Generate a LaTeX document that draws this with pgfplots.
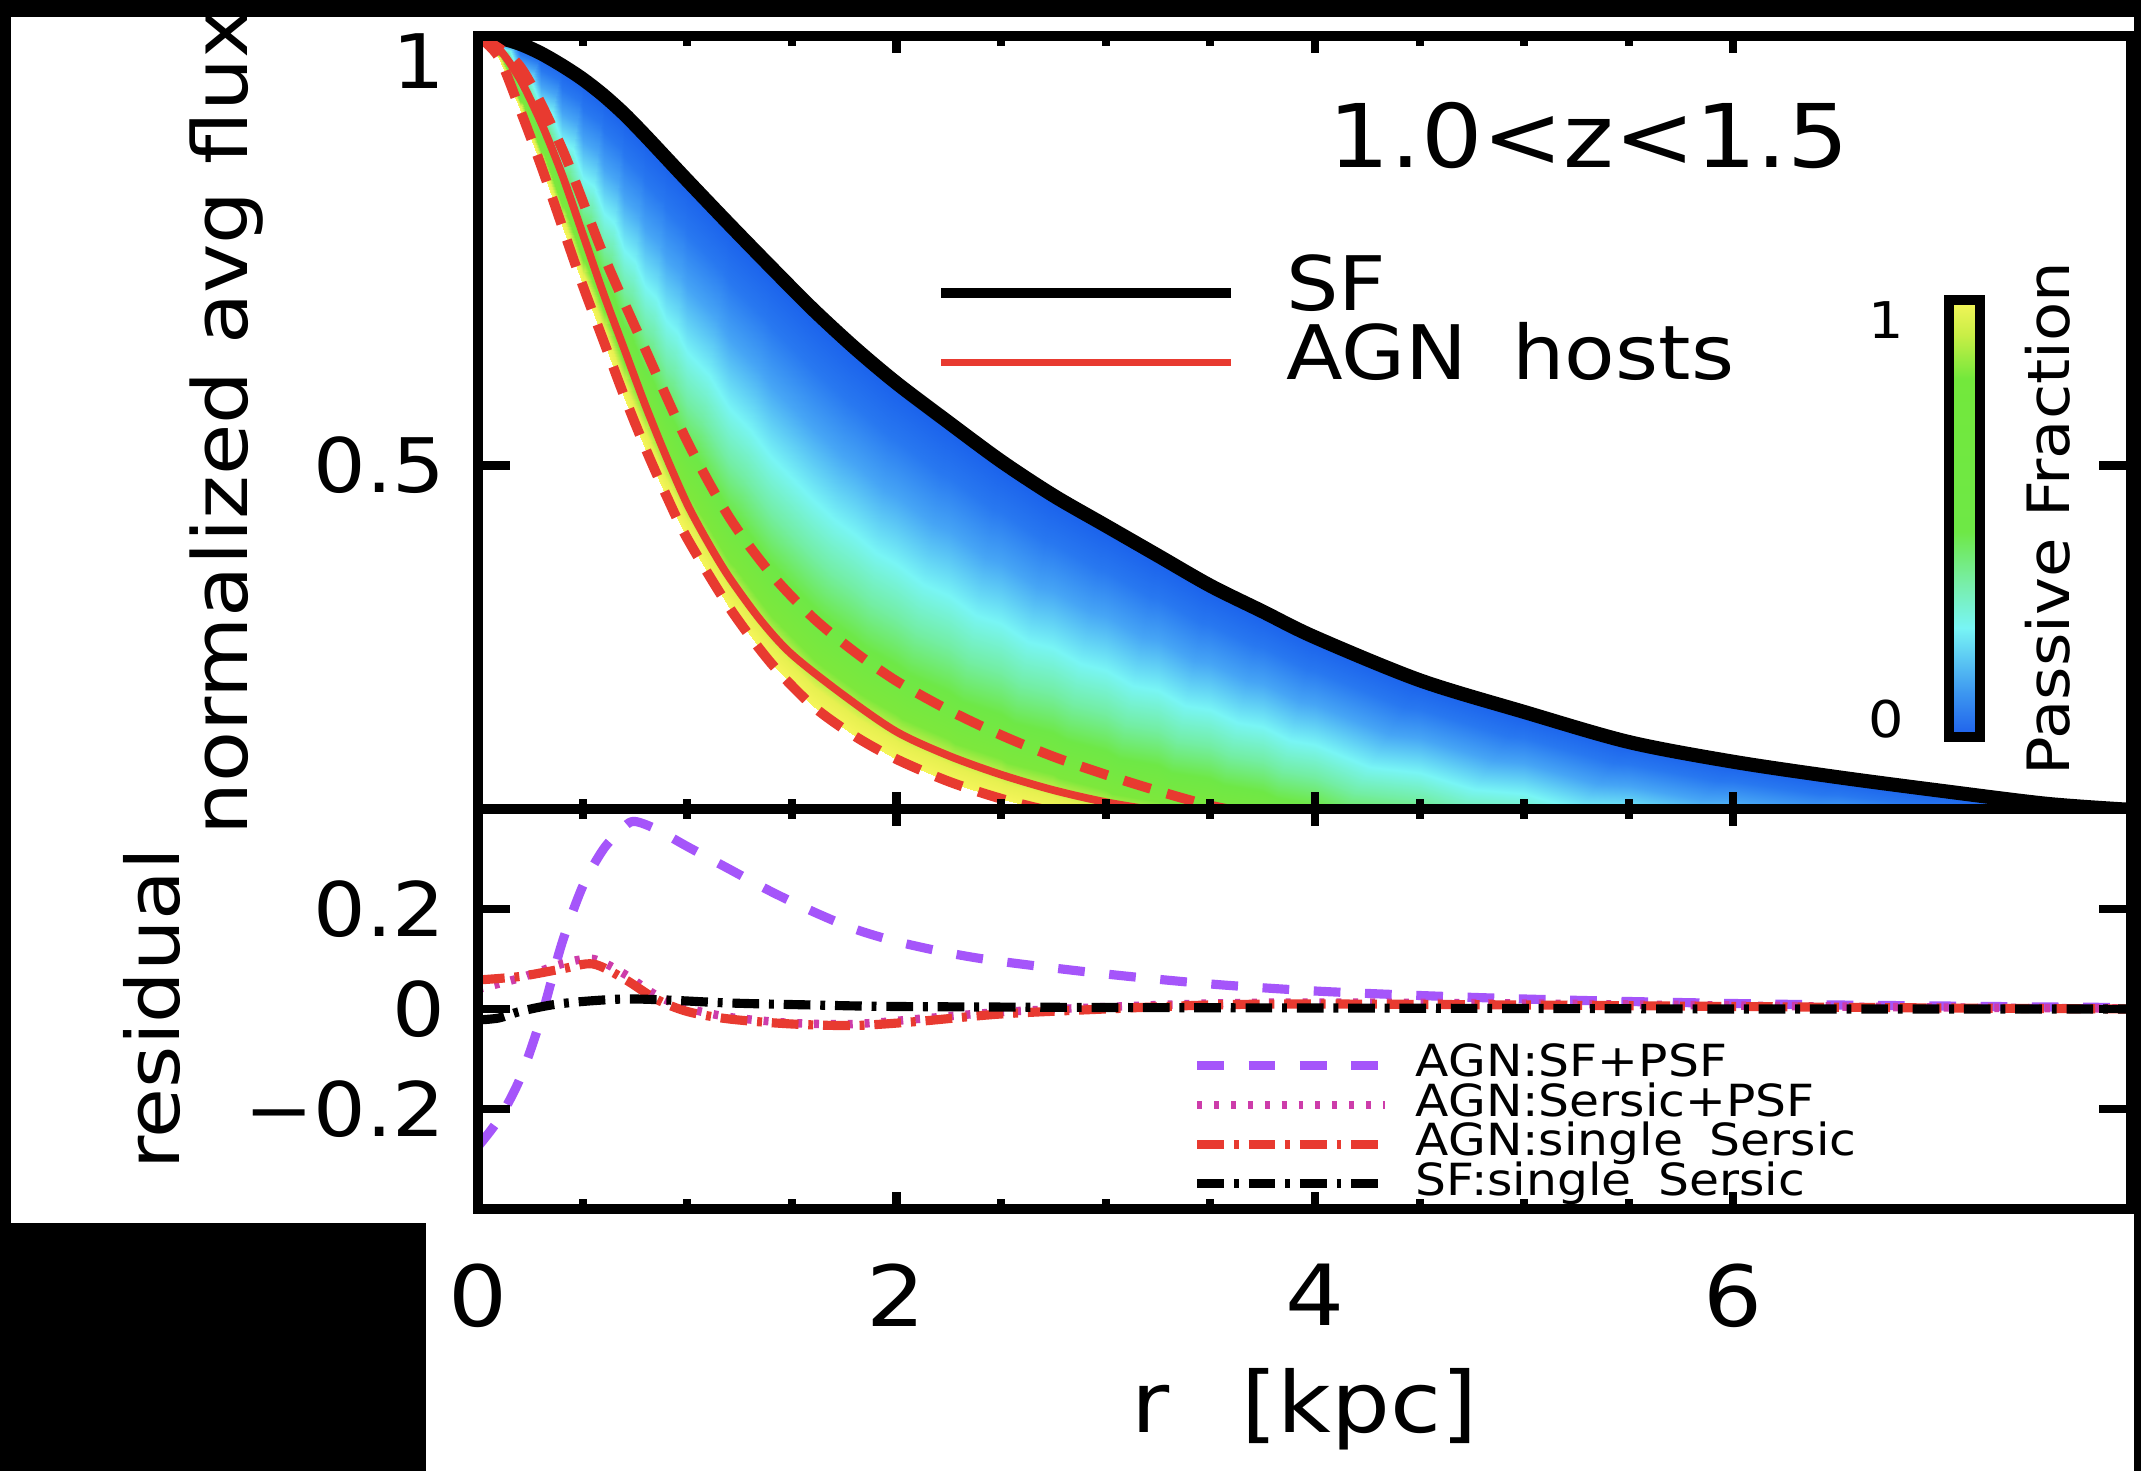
\documentclass[border=0pt]{standalone}
\usepackage{fontspec}
\setmainfont{DejaVu Sans}[FakeStretch=1.1]
\usepackage{pgfplots}
\usepackage{pgfplotstable}
\pgfplotsset{compat=1.18}
\definecolor{agnred}{RGB}{232,58,48}
\definecolor{sfpurple}{RGB}{165,85,250}
\definecolor{sermag}{RGB}{205,60,170}

\pgfplotsset{
 colormap={band}{rgb255(0cm)=(25,95,235); rgb255(1.5cm)=(40,120,240); rgb255(3cm)=(70,165,245); rgb255(4.8cm)=(120,245,245); rgb255(6.2cm)=(115,238,165); rgb255(7.5cm)=(110,232,70); rgb255(8.8cm)=(125,232,60); rgb255(9.5cm)=(230,240,80); rgb255(10cm)=(245,245,90)},
 colormap={pf}{rgb255(0cm)=(30,95,235); rgb255(1cm)=(60,150,240); rgb255(2.5cm)=(120,245,245); rgb255(3.5cm)=(120,238,170); rgb255(4.7cm)=(110,232,70); rgb255(8.2cm)=(115,232,60); rgb255(9.2cm)=(200,238,70); rgb255(10cm)=(245,245,90)},
 sfleg/.style={legend image code/.code={\draw[##1, line width=1.3pt] (0cm,0cm) -- (1.45cm,0cm); \path (1.69cm,0cm);}},
 agnleg/.style={legend image code/.code={\draw[##1, line width=1pt] (0cm,0cm) -- (1.45cm,0cm); \path (1.69cm,0cm);}},
 resleg/.style={legend image code/.code={\draw[##1] (0cm,0cm) -- (0.94cm,0cm); \path (1.07cm,0cm);}},
}

% band between SF profile (m=0) and passive edge (m=1)
\pgfplotstableread{
r f m
0 1.000 0
0.1 0.998 0
0.2 0.991 0
0.3 0.980 0
0.4 0.966 0
0.5 0.950 0
0.6 0.931 0
0.7 0.909 0
0.8 0.884 0
0.9 0.858 0
1.0 0.832 0
1.2 0.781 0
1.4 0.731 0
1.6 0.682 0
1.8 0.637 0
2.0 0.596 0
2.25 0.550 0
2.5 0.505 0
2.75 0.465 0
3.0 0.430 0
3.25 0.395 0
3.5 0.360 0
3.75 0.330 0
4.0 0.300 0
4.5 0.250 0
5.0 0.213 0
5.5 0.178 0
6.0 0.155 0
6.5 0.137 0
7.0 0.121 0
7.5 0.106 0
7.9 0.099 0
0 1.000 1
0.1 0.975 1
0.2 0.915 1
0.3 0.850 1
0.4 0.780 1
0.5 0.710 1
0.6 0.645 1
0.7 0.580 1
0.8 0.520 1
0.9 0.465 1
1.0 0.415 1
1.2 0.335 1
1.4 0.270 1
1.6 0.220 1
1.8 0.185 1
2.0 0.158 1
2.25 0.132 1
2.5 0.112 1
2.75 0.097 1
3.0 0.080 1
3.25 0.070 1
3.5 0.060 1
3.75 0.050 1
4.0 0.040 1
4.5 0.025 1
5.0 0.015 1
5.5 0.008 1
6.0 0.004 1
6.5 0.002 1
7.0 0.001 1
7.5 0.000 1
7.9 0.000 1
}\bandtable

\pgfplotstableread{
r f
0 1.000
0.1 0.998
0.2 0.991
0.3 0.980
0.4 0.966
0.5 0.950
0.6 0.931
0.7 0.909
0.8 0.884
0.9 0.858
1.0 0.832
1.2 0.781
1.4 0.731
1.6 0.682
1.8 0.637
2.0 0.596
2.25 0.550
2.5 0.505
2.75 0.465
3.0 0.430
3.25 0.395
3.5 0.360
3.75 0.330
4.0 0.300
4.5 0.250
5.0 0.213
5.5 0.178
6.0 0.155
6.5 0.137
7.0 0.121
7.5 0.106
7.9 0.099
}\sftable

\pgfplotstableread{
r f
0 1.000
0.1 0.985
0.2 0.950
0.3 0.900
0.4 0.840
0.5 0.770
0.6 0.700
0.7 0.635
0.8 0.570
0.9 0.510
1.0 0.455
1.1 0.410
1.2 0.370
1.35 0.320
1.5 0.280
1.75 0.232
2.0 0.190
2.25 0.162
2.5 0.140
2.75 0.122
3.0 0.108
3.25 0.098
3.5 0.090
}\agntable

\pgfplotstableread{
r f
0 1.000
0.2 0.965
0.4 0.870
0.6 0.745
0.8 0.635
1.0 0.528
1.2 0.440
1.4 0.374
1.6 0.323
1.8 0.283
2.0 0.249
2.25 0.215
2.5 0.186
2.75 0.161
3.0 0.140
3.25 0.121
3.5 0.104
3.75 0.092
}\agnhi

\pgfplotstableread{
r f
0 1.000
0.1 0.975
0.2 0.915
0.3 0.850
0.4 0.780
0.5 0.710
0.6 0.645
0.7 0.580
0.8 0.520
0.9 0.465
1.0 0.415
1.2 0.335
1.4 0.270
1.6 0.220
1.8 0.185
2.0 0.158
2.25 0.132
2.5 0.112
2.75 0.097
3.0 0.088
}\agnlo

\pgfplotstableread{
r v
0.0 -0.275
0.1 -0.22
0.2 -0.14
0.3 -0.02
0.4 0.13
0.5 0.245
0.6 0.32
0.7 0.365
0.75 0.375
0.85 0.36
1.0 0.325
1.2 0.28
1.4 0.235
1.6 0.195
1.8 0.16
2.0 0.135
2.25 0.112
2.5 0.095
3.0 0.07
3.5 0.05
4.0 0.036
4.5 0.027
5.0 0.02
5.5 0.015
6.0 0.011
6.5 0.008
7.0 0.006
7.5 0.004
7.9 0.003
}\resA

\pgfplotstableread{
r v
0.0 0.04
0.2 0.062
0.4 0.09
0.55 0.1
0.7 0.07
0.85 0.028
1.0 0.002
1.2 -0.016
1.5 -0.028
1.8 -0.03
2.1 -0.02
2.5 -0.006
3.0 0.004
3.5 0.011
4.0 0.013
5.0 0.011
6.0 0.007
7.0 0.003
7.9 0.001
}\resB

\pgfplotstableread{
r v
0.0 0.058
0.2 0.065
0.4 0.08
0.55 0.09
0.7 0.06
0.85 0.02
1.0 -0.005
1.2 -0.02
1.5 -0.03
1.8 -0.033
2.1 -0.025
2.5 -0.01
3.0 0.0
3.5 0.008
4.0 0.01
5.0 0.008
6.0 0.005
7.0 0.002
7.9 0.0
}\resC

\pgfplotstableread{
r v
0.0 -0.022
0.1 -0.018
0.2 -0.005
0.35 0.008
0.5 0.015
0.7 0.02
0.9 0.018
1.2 0.012
1.6 0.008
2.0 0.005
3.0 0.003
4.0 0.002
5.0 0.001
6.0 0.0
7.0 0.0
7.9 0.0
}\resD

\pgfplotsset{
 panel/.style={
  scale only axis, width=8.265cm, xmin=0, xmax=7.9,
  axis on top, tick align=inside,
  axis line style={line width=1.5pt},
  tick style={line width=1.15pt, black},
  major tick length=0.16cm, minor tick length=0.05cm,
  xtick style={/pgfplots/major tick length=0.085cm},
  xtick={0,2,4,6}, minor x tick num=3,
  yticklabel style={font=\fontsize{10.7}{12}\selectfont, xshift=-0.04cm},
  xticklabel style={font=\fontsize{12}{14}\selectfont, yshift=-0.15cm},
  legend cell align=left,
 },
}

\begin{document}
\begin{tikzpicture}
\path[use as bounding box] (0,0) rectangle (10.705,7.355);
\fill[black] (0,0) rectangle (10.705,7.355);
\fill[white] (0.055,0) rectangle (10.67,7.27);
\fill[black] (0,0) rectangle (2.13,1.24);
\coordinate (cbpos) at (9.445cm,3.67cm);

% upper panel
\begin{axis}[panel,
  at={(2.39cm,3.31cm)}, anchor=south west, height=3.865cm,
  ymin=0.1, ymax=1, ytick={0.5,1}, yticklabels={0.5,\raisebox{-0.26cm}[0pt][0pt]{1}},
  xticklabels={},
  ylabel={normalized avg flux},
  ylabel style={at={(axis description cs:-0.1397,0.5)}, anchor=base, font=\fontsize{10.8}{12}\selectfont},
  colormap name=pf, point meta min=0, point meta max=1,
  colorbar,
  colorbar style={
    at={(cbpos)}, anchor=south west,
    scale only axis, width=0.155cm, height=2.185cm,
    ytick={0.04,0.955}, yticklabels={0,1}, yticklabel pos=left,
    major tick length=0pt, minor tick length=0pt,
    axis line style={line width=1.4pt},
    yticklabel style={font=\fontsize{7.2}{8}\selectfont, xshift=-0.1cm},
    ylabel={Passive Fraction},
    ylabel style={at={(axis description cs:1.645,0.5)}, anchor=north, font=\fontsize{8.3}{9}\selectfont},
  },
  legend style={at={(0.2775,0.705)}, anchor=north west, draw=none, fill=none,
    inner sep=0pt, outer sep=0pt, row sep=1.6pt,
    nodes={inner sep=0pt, text height=6.6pt, text depth=1.65pt, font=\fontsize{10.7}{12}\selectfont}},
]
\addplot[surf, shader=interp, colormap name=band, mesh/rows=2, mesh/cols=32,
  point meta=explicit, forget plot] table[x=r, y=f, meta=m] {\bandtable};
\addplot[black, line width=2pt, smooth, sfleg] table[x=r, y=f] {\sftable};
\addlegendentry{SF}
\addplot[agnred, line width=1.4pt, smooth, dash pattern=on 4pt off 2.4pt, forget plot]
  table[x=r, y=f] {\agnhi};
\addplot[agnred, line width=1.4pt, smooth, dash pattern=on 4pt off 2.4pt, forget plot]
  table[x=r, y=f] {\agnlo};
\addplot[agnred, line width=1.1pt, smooth, agnleg] table[x=r, y=f] {\agntable};
\addlegendentry{AGN\hspace{0.6em}hosts}
\node[anchor=base west, inner sep=0pt, font=\fontsize{12.5}{14}\selectfont] at (axis cs:4.06,0.8475) {1.0<z<1.5};
\end{axis}

% lower panel
\begin{axis}[panel,
  at={(2.39cm,1.31cm)}, anchor=south west, height=2cm,
  ymin=-0.4, ymax=0.4, ytick={-0.2,0,0.2}, yticklabels={−0.2,0,0.2},
  xticklabels={0,2,4,6},
  xlabel={r\hspace{0.85em}[kpc]},
  xlabel style={at={(axis description cs:0.5,0)}, anchor=base, yshift=-1.115cm, font=\fontsize{12}{14}\selectfont},
  ylabel={residual},
  ylabel style={at={(axis description cs:-0.1803,0.5)}, anchor=base, font=\fontsize{10.5}{12}\selectfont},
  legend style={at={(0.4324,0.4075)}, anchor=north west, draw=none, fill=none,
    inner sep=0pt, outer sep=0pt, row sep=0pt,
    nodes={inner sep=0pt, text height=4.4pt, text depth=1.2pt, font=\fontsize{6.3}{7}\selectfont}},
  resleg,
]
\addplot[sfpurple, line width=1.3pt, smooth, dash pattern=on 3.8pt off 3.5pt] table[x=r, y=v] {\resA};
\addlegendentry{AGN:SF+PSF}
\addplot[sermag, line width=1.2pt, smooth, dash pattern=on 0.7pt off 1.7pt] table[x=r, y=v] {\resB};
\addlegendentry{AGN:Sersic+PSF}
\addplot[agnred, line width=1.3pt, smooth, dash pattern=on 3.8pt off 1.4pt on 0.7pt off 1.4pt] table[x=r, y=v] {\resC};
\addlegendentry{AGN:single\hspace{0.6em}Sersic}
\addplot[black, line width=1.3pt, smooth, dash pattern=on 3.8pt off 1.4pt on 0.7pt off 1.4pt] table[x=r, y=v] {\resD};
\addlegendentry{SF:single\hspace{0.6em}Sersic}
\end{axis}
\end{tikzpicture}
\end{document}
